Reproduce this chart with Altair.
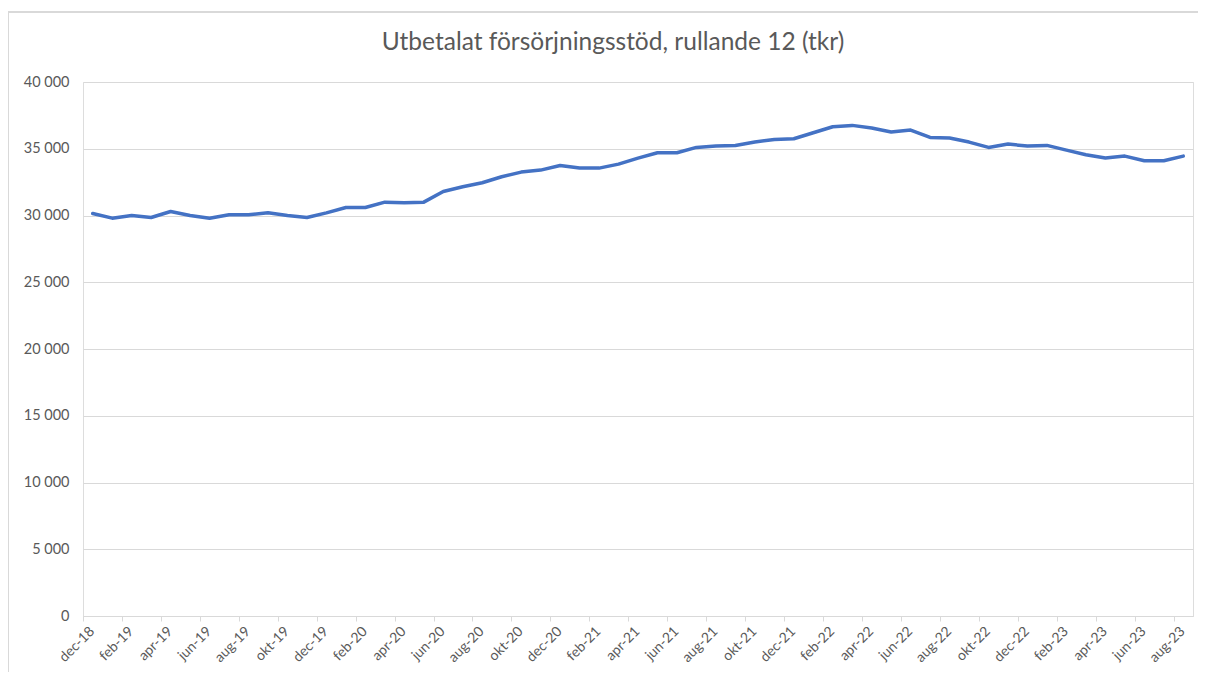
import altair as alt
import pandas as pd

months = [
    "dec-18", "jan-19", "feb-19", "mar-19", "apr-19", "maj-19", "jun-19", "jul-19",
    "aug-19", "sep-19", "okt-19", "nov-19", "dec-19", "jan-20", "feb-20", "mar-20",
    "apr-20", "maj-20", "jun-20", "jul-20", "aug-20", "sep-20", "okt-20", "nov-20",
    "dec-20", "jan-21", "feb-21", "mar-21", "apr-21", "maj-21", "jun-21", "jul-21",
    "aug-21", "sep-21", "okt-21", "nov-21", "dec-21", "jan-22", "feb-22", "mar-22",
    "apr-22", "maj-22", "jun-22", "jul-22", "aug-22", "sep-22", "okt-22", "nov-22",
    "dec-22", "jan-23", "feb-23", "mar-23", "apr-23", "maj-23", "jun-23", "jul-23",
    "aug-23",
]
values = [
    30150, 29800, 30000, 29850, 30300, 30000, 29800, 30050,
    30050, 30200, 30000, 29850, 30200, 30600, 30600, 31000,
    30950, 31000, 31800, 32150, 32450, 32900, 33250, 33400,
    33750, 33550, 33550, 33850, 34300, 34700, 34700, 35100,
    35200, 35250, 35500, 35700, 35750, 36200, 36650, 36750,
    36550, 36250, 36400, 35850, 35800, 35500, 35100, 35350,
    35200, 35250, 34900, 34550, 34300, 34450, 34100, 34100,
    34450,
]
y_ticks = [0, 5000, 10000, 15000, 20000, 25000, 30000, 35000, 40000]
title_text = "Utbetalat försörjningsstöd, rullande 12 (tkr)"

df = pd.DataFrame({"month": months, "value": values})

FONT = "Lato"
TXT = "#595959"
GRID = "#d9d9d9"
W, H = 1110, 534
band = W / len(months)

base = alt.Chart(df)

line = base.mark_line(
    color="#4472C4", strokeWidth=3.5, strokeJoin="round", strokeCap="round"
).encode(
    x=alt.X(
        "month:O",
        sort=months,
        title=None,
        bandPosition=0.5,
        scale=alt.Scale(type="band", paddingInner=0, paddingOuter=0),
        axis=alt.Axis(
            values=months[::2],
            tickOffset=-band / 2,
            labelAngle=-45,
            labelAlign="right",
            labelBaseline="top",
            labelFont=FONT,
            labelFontSize=14,
            labelColor=TXT,
            labelPadding=3,
            labelOffset=4,
            domainColor=GRID,
            tickColor=GRID,
            tickSize=5,
            grid=False,
        ),
    ),
    y=alt.Y(
        "value:Q",
        title=None,
        scale=alt.Scale(domain=[0, 40000], nice=False),
        axis=alt.Axis(
            values=y_ticks,
            labelExpr="replace(format(datum.value, ','), ',', ' ')",
            labelFont=FONT,
            labelFontSize=14.5,
            labelColor=TXT,
            labelPadding=14,
            ticks=False,
            domain=False,
            gridColor=GRID,
            gridWidth=1,
        ),
    ),
)

frame = base.mark_rect(
    fill=None, stroke="#d9d9d9", strokeWidth=1.5, clip=False
).encode(
    x=alt.value(-75), x2=alt.value(W + 30),
    y=alt.value(-70), y2=alt.value(H + 80),
)

chart = alt.layer(frame, line).properties(
    width=W,
    height=H,
    title=alt.TitleParams(
        title_text, font=FONT, fontSize=24.5, fontWeight="normal", color=TXT,
        anchor="middle", frame="group", offset=-44, dx=-25,
    ),
    autosize=alt.AutoSizeParams(type="none"),
    padding={"left": 75, "top": 74, "right": 5, "bottom": 56},
).configure_view(stroke=None).configure(background="white")

chart.save("out.html", embed_options={"renderer": "svg", "actions": False})
